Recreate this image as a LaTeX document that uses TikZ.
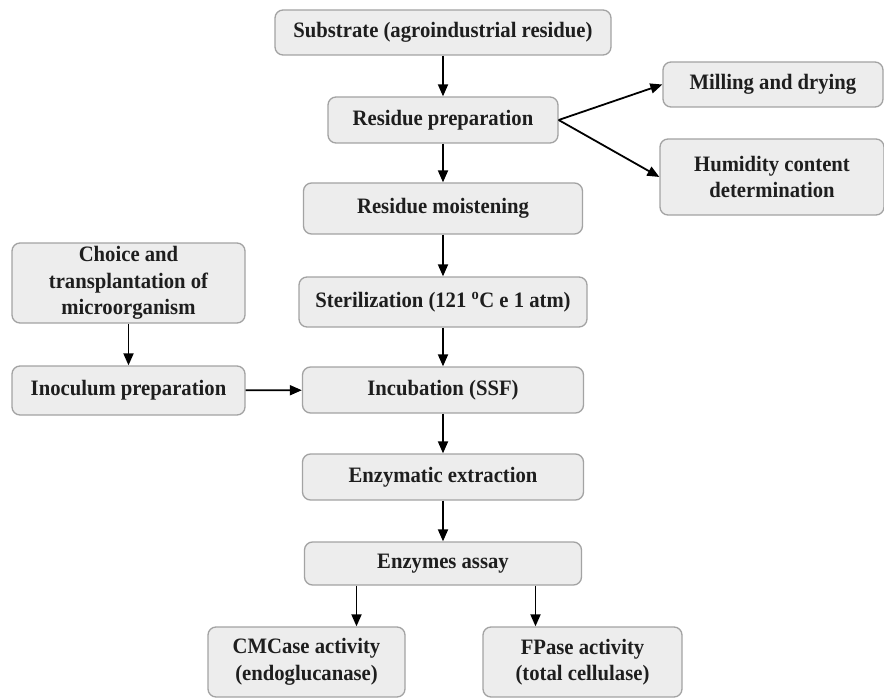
\documentclass[tikz,border=0pt]{standalone}
\usepackage{fontspec}
\setmainfont{Liberation Serif}[FakeStretch=0.94]
\usepackage{tikz}
\usetikzlibrary{arrows.meta}

\definecolor{boxfill}{HTML}{EDEDED}
\definecolor{boxline}{HTML}{A3A3A3}
\definecolor{ink}{HTML}{1E1E1E}

\tikzset{
	stage/.style={shape=rectangle,rounded corners=8pt,draw=boxline,fill=boxfill,line width=1.3pt,
		text=ink,align=center,inner sep=2pt,
		font=\fontsize{22}{26.5}\selectfont\bfseries},
	arr/.style={-{Triangle[length=12pt,width=10pt]},line width=1.8pt,black}
}

\begin{document}
\begin{tikzpicture}[x=1pt,y=-1pt]
	\useasboundingbox (0,0) rectangle (884,698);

	\node[stage,minimum width=336pt,minimum height=45pt] (sub) at (443, 32.5)     {Substrate (agroindustrial residue)};
	\node[stage,minimum width=230pt,minimum height=46pt] (prep) at (443, 120)     {Residue preparation};
	\node[stage,minimum width=220pt,minimum height=45pt] (mill) at (773, 84.5)     {Milling and drying};
	\node[stage,minimum width=224pt,minimum height=76pt] (hum) at (772, 177)     {Humidity content\\determination};
	\node[stage,minimum width=279pt,minimum height=51pt] (moist) at (443, 208.5)     {Residue moistening};
	\node[stage,minimum width=233pt,minimum height=80pt] (choice) at (128.5, 283)     {Choice and\\transplantation of\\microorganism};
	\node[stage,minimum width=288pt,minimum height=50pt] (steril) at (443, 302)     {Sterilization (121 \textsuperscript{o}C e 1 atm)};
	\node[stage,minimum width=233pt,minimum height=49pt] (inoc) at (128.5, 390.5)     {Inoculum preparation};
	\node[stage,minimum width=281pt,minimum height=46pt] (incub) at (443, 390)     {Incubation (SSF)};
	\node[stage,minimum width=281pt,minimum height=46pt] (extr) at (443, 477)     {Enzymatic extraction};
	\node[stage,minimum width=277pt,minimum height=43pt] (assay) at (443, 563.5)     {Enzymes assay};
	\node[stage,minimum width=197pt,minimum height=70pt] (cmc) at (306.5, 662)     {CMCase activity\\(endoglucanase)};
	\node[stage,minimum width=199pt,minimum height=70pt] (fpa) at (582.5, 662)     {FPase activity\\(total cellulase)};

	\coordinate (cmctop) at ([xshift=50pt]cmc.north);
	\coordinate (fpatop) at ([xshift=-47pt]fpa.north);

	\path[arr] (sub) edge (prep);
	\path[arr] (prep.east) edge (mill.west);
	\path[arr] (prep.east) edge (hum.west);
	\path[arr] (prep) edge (moist);
	\path[arr] (moist) edge (steril);
	\path[arr] (steril) edge (incub);
	\path[arr] (choice) edge (inoc);
	\path[arr] (inoc) edge (incub);
	\path[arr] (incub) edge (extr);
	\path[arr] (extr) edge (assay);
	\path[arr] (assay.south -| cmctop) edge (cmctop);
	\path[arr] (assay.south -| fpatop) edge (fpatop);

\end{tikzpicture}
\end{document}
